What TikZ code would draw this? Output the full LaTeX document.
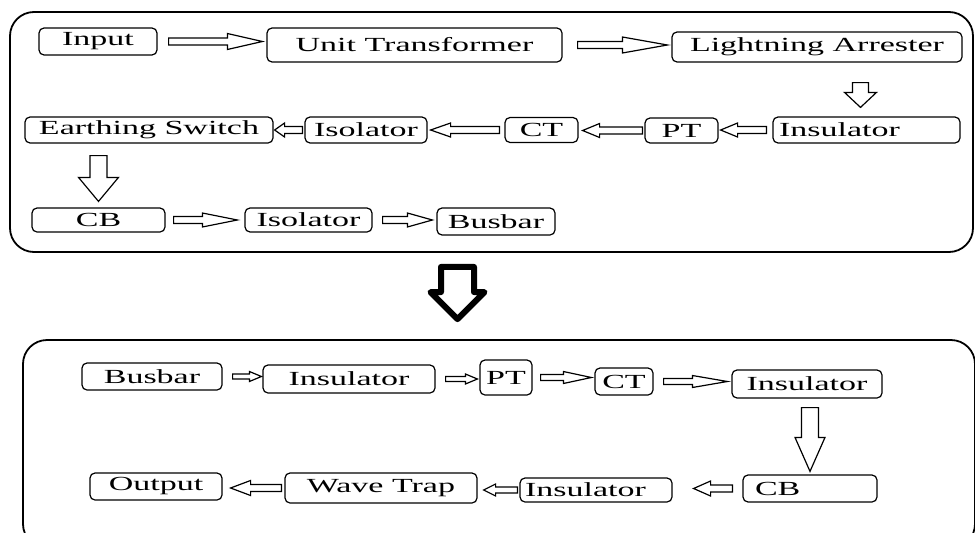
\documentclass[tikz,border=0pt]{standalone}
\usepackage{fontspec}
\setmainfont{Liberation Serif}[FakeStretch=1.7]
\usetikzlibrary{positioning, calc}

\begin{document}
\begin{tikzpicture}[x=1pt, y=-1pt,
        every node/.style={font=\fontsize{20}{24}\selectfont},
        blk/.style={draw, rounded corners=5pt, line width=1.2pt, inner sep=2pt},
        sect/.style={draw, rounded corners=24pt, line width=1.8pt, inner sep=0pt},
        fat/.style n args={5}{line width=1.2pt, to path={
            ($(\tikztostart)!#4!(\tikztotarget)$) coordinate (fs)
            ($(\tikztotarget)!#5!(\tikztostart)$) coordinate (fe)
            ($(fe)!#3!(fs)$) coordinate (fh)
            ($(fs)!#1!90:(fe)$) -- ($(fh)!#1!90:(fe)$) -- ($(fh)!#2!90:(fe)$)
            -- (fe) -- ($(fh)!#2!-90:(fe)$) -- ($(fh)!#1!-90:(fe)$)
            -- ($(fs)!#1!-90:(fe)$) -- cycle}}]
                    \useasboundingbox (0,0) rectangle (975,533);

                    \node[sect, minimum width=963pt, minimum height=240pt] (sec1) at (491.5,132) {};
                    \node[sect, minimum width=952pt, minimum height=208pt] (sec2) at (499,444) {};

                    \node[blk, minimum width=118pt, minimum height=27pt] (in) at (98,41.5) {Input};
                    \node[blk, minimum width=295pt, minimum height=34pt] (ut) at (414.5,45) {Unit Transformer};
                    \node[blk, minimum width=290pt, minimum height=30pt] (la) at (817,47) {Lightning Arrester};
                    \node[blk, inner xsep=6pt, text width=175pt, align=left, minimum height=26pt] (ins1) at (866.5,130) {Insulator};
                    \node[blk, minimum width=73pt, minimum height=25pt] (pt1) at (681.5,130.5) {PT};
                    \node[blk, minimum width=73pt, minimum height=25pt] (ct1) at (541.5,130) {CT};
                    \node[blk, minimum width=122pt, minimum height=26pt] (iso1) at (366,130) {Isolator};
                    \node[blk, minimum width=248pt, minimum height=26pt] (es) at (149,130) {Earthing Switch};
                    \node[blk, minimum width=133pt, minimum height=24pt] (cb1) at (98.5,220) {CB};
                    \node[blk, minimum width=127pt, minimum height=24pt] (iso2) at (308.5,220) {Isolator};
                    \node[blk, minimum width=118pt, minimum height=27pt] (bb1) at (496,221.5) {Busbar};

                    \node[blk, minimum width=140pt, minimum height=27pt] (bb2) at (152,376.5) {Busbar};
                    \node[blk, minimum width=172pt, minimum height=28pt] (ins2) at (349,379) {Insulator};
                    \node[blk, minimum width=52pt, minimum height=35pt] (pt2) at (506,377.5) {PT};
                    \node[blk, minimum width=58pt, minimum height=27pt] (ct2) at (624,381.5) {CT};
                    \node[blk, minimum width=150pt, minimum height=28pt] (ins3) at (807,384) {Insulator};
                    \node[blk, inner xsep=12pt, text width=110pt, align=left, minimum height=27pt] (cb2) at (810,488.5) {CB};
                    \node[blk, inner xsep=5pt, text width=142pt, align=left, minimum height=24pt] (ins4) at (596,490) {Insulator};
                    \node[blk, minimum width=192pt, minimum height=30pt] (wt) at (381,488) {Wave Trap};
                    \node[blk, minimum width=132pt, minimum height=27pt] (out) at (156,486.5) {Output};

                    \coordinate (lad) at ($(ins1.north)+(-6,0)$);
                    \coordinate (mid) at ($(sec1.south)+(-34,0)$);

                    \draw[fat={3.5pt}{8pt}{35pt}{11pt}{4pt}] (in.east) to (in.east -| ut.west);
                    \draw[fat={3.5pt}{8pt}{45pt}{15pt}{4pt}] (ut.east) to (ut.east -| la.west);
                    \draw[fat={8pt}{16pt}{15pt}{20pt}{9pt}] (la.south -| lad) to (lad);
                    \draw[fat={3.5pt}{7pt}{17pt}{6pt}{2pt}] (ins1.west) to (ins1.west -| pt1.east);
                    \draw[fat={3.5pt}{7pt}{17pt}{2pt}{4pt}] (pt1.west) to (pt1.west -| ct1.east);
                    \draw[fat={3.5pt}{7pt}{20pt}{5pt}{3pt}] (ct1.west) to (ct1.west -| iso1.east);
                    \draw[fat={3.5pt}{7pt}{10pt}{2pt}{1pt}] (iso1.west) to (iso1.west -| es.east);
                    \draw[fat={8.5pt}{20pt}{24pt}{12pt}{6pt}] (cb1.north |- es.south) to (cb1.north);
                    \draw[fat={3.5pt}{7pt}{35pt}{8pt}{7pt}] (cb1.east) to (cb1.east -| iso2.west);
                    \draw[fat={3.5pt}{7pt}{25pt}{10pt}{4pt}] (iso2.east) to (iso2.east -| bb1.west);

                    \draw[fat={16.5pt}{27pt}{27pt}{14pt}{20pt}, line width=6pt, line join=round] (mid) to (mid |- sec2.north);

                    \draw[fat={2.5pt}{5pt}{12pt}{10pt}{1pt}] (bb2.east) to (bb2.east -| ins2.west);
                    \draw[fat={2.5pt}{5pt}{12pt}{10pt}{2pt}] (ins2.east) to (ins2.east -| pt2.west);
                    \draw[fat={3pt}{6pt}{28pt}{8pt}{3pt}] (pt2.east) to (pt2.east -| ct2.west);
                    \draw[fat={3pt}{6pt}{35pt}{10pt}{4pt}] (ct2.east) to (ct2.east -| ins3.west);
                    \draw[fat={8.5pt}{15pt}{34pt}{9pt}{3pt}] (cb2.north |- ins3.south) to (cb2.north);
                    \draw[fat={3.5pt}{7.5pt}{17pt}{10pt}{21pt}] (cb2.west) to (cb2.west -| ins4.east);
                    \draw[fat={3pt}{6pt}{12pt}{2pt}{6pt}] (ins4.west) to (ins4.west -| wt.east);
                    \draw[fat={3.5pt}{7.5pt}{20pt}{3pt}{8pt}] (wt.west) to (wt.west -| out.east);
                \end{tikzpicture}
\end{document}
